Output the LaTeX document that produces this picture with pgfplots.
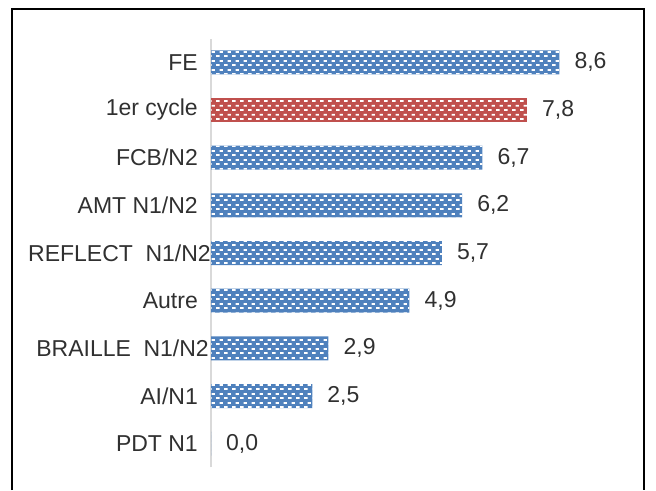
\documentclass[border=0pt]{standalone}
\usepackage{fontspec}
\setmainfont{Liberation Sans}
\usepackage{pgfplots}
\pgfplotsset{compat=1.18}
\usetikzlibrary{patterns}
\definecolor{barblue}{HTML}{4F81BD}
\definecolor{barred}{HTML}{C0504D}
\definecolor{txt}{HTML}{303030}
\pgfdeclarepatternformonly{dashrows}{\pgfpointorigin}{\pgfpoint{8pt}{9pt}}{\pgfpoint{8pt}{9pt}}{%
  \pgfpathrectangle{\pgfpoint{0.2pt}{1.2pt}}{\pgfpoint{4pt}{2pt}}%
  \pgfpathrectangle{\pgfpoint{4.2pt}{5.7pt}}{\pgfpoint{3.6pt}{2pt}}%
  \pgfusepath{fill}}
\begin{document}
\begin{tikzpicture}
\useasboundingbox (0,0) rectangle (656pt,490pt);
\draw[line width=2.4pt] (12pt,0) -- (12pt,481pt) -- (644pt,481pt) -- (644pt,0);
\begin{axis}[
  at={(211pt,22.5pt)}, anchor=south west,
  scale only axis, width=405pt, height=429pt,
  xmin=0, xmax=10, ymin=-0.5, ymax=8.5,
  axis x line=none, axis y line*=left,
  y axis line style={draw=black!15, line width=1.5pt},
  ytick={0,1,2,3,4,5,6,7,8},
  yticklabels={PDT N1, AI/N1, BRAILLE\hspace{0.55em}N1/N2\hspace*{-11pt}, Autre, REFLECT\hspace{0.55em}N1/N2\hspace*{-13pt}, AMT N1/N2, FCB/N2, 1er cycle, FE},
  major tick length=0pt, ytick style={draw=none},
  yticklabel style={font=\fontsize{23}{23}\selectfont, text=txt, inner sep=0pt, xshift=-13pt},
  xbar, bar width=24pt, bar shift=0pt,
  clip=false,
  /pgf/number format/.cd, fixed, fixed zerofill, precision=1, use comma, assume math mode=true,
  /pgfplots/.cd,
  nodes near coords,
  nodes near coords style={font=\fontsize{23}{23}\selectfont, text=txt, anchor=west, inner sep=0pt, xshift=15pt},
]
\addplot[draw=none, fill=barblue, postaction={pattern=dashrows, pattern color=white}] coordinates {
  (8.6,8) (6.7,6) (6.2,5) (5.7,4) (4.9,3) (2.9,2) (2.5,1) (0.0,0)
};
\addplot[draw=none, fill=barred, postaction={pattern=dashrows, pattern color=white}] coordinates {
  (7.8,7)
};
\end{axis}
\end{tikzpicture}
\end{document}
